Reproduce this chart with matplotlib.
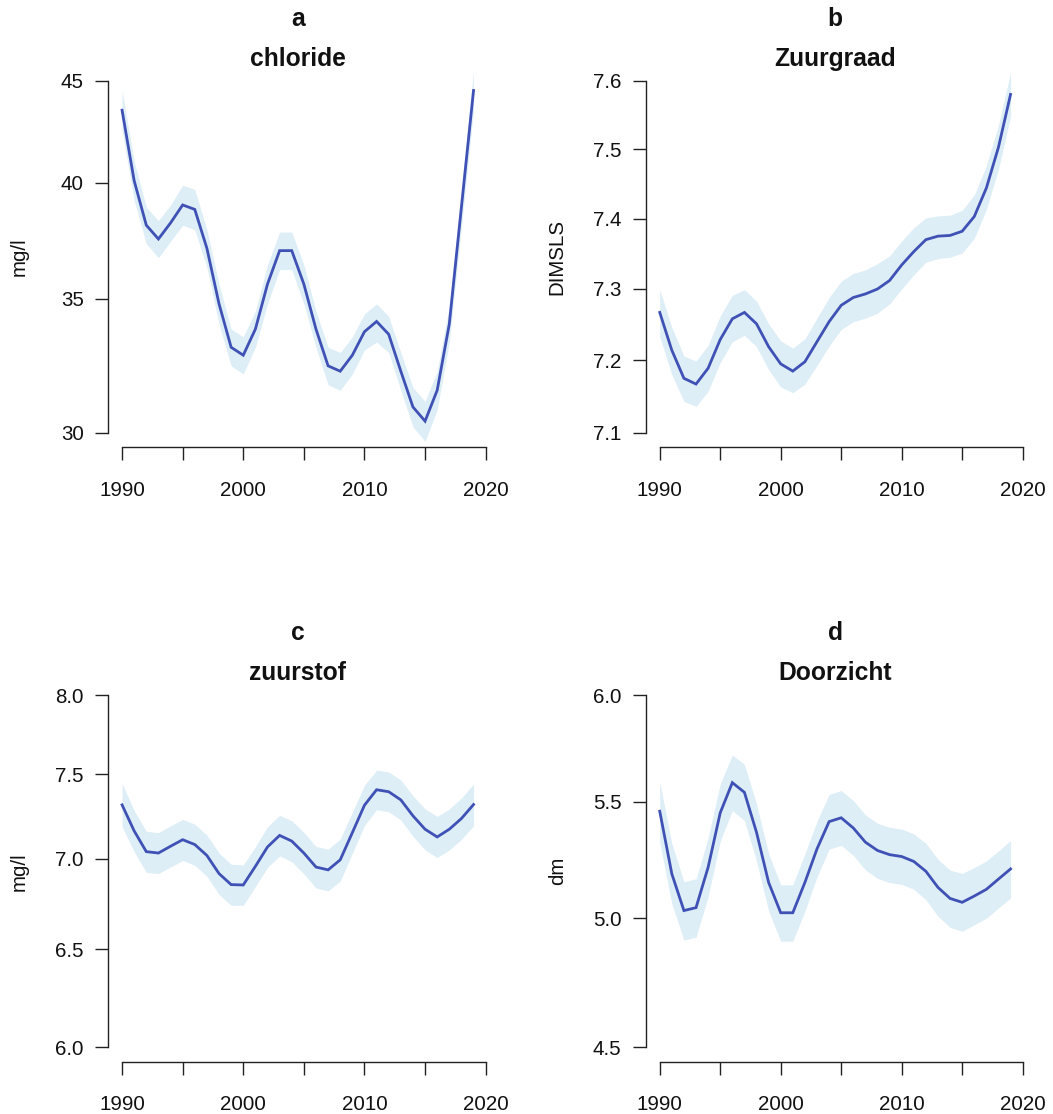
import numpy as np
import matplotlib
matplotlib.use("Agg")
import matplotlib.pyplot as plt

plt.rcParams['font.family'] = ['Liberation Sans', 'DejaVu Sans']

years = list(range(1990, 2020))

# Panel a: chloride (mg/l)
chloride_mid = [43.5, 40.1, 38.1, 37.5, 38.2, 39.0, 38.8, 37.1, 34.8, 33.1,
                32.8, 33.8, 35.6, 37.0, 37.0, 35.6, 33.8, 32.4, 32.2, 32.8,
                33.7, 34.1, 33.6, 32.2, 30.9, 30.4, 31.5, 34.0, 38.9, 44.5]
chloride_lo = [42.5, 39.2, 37.3, 36.7, 37.4, 38.1, 37.9, 36.3, 34.0, 32.4,
               32.1, 33.1, 34.8, 36.2, 36.2, 34.8, 33.1, 31.7, 31.5, 32.1,
               33.0, 33.3, 32.9, 31.5, 30.2, 29.7, 30.8, 33.3, 38.0, 43.5]
chloride_hi = [44.5, 41.0, 38.9, 38.3, 39.0, 39.9, 39.7, 37.9, 35.6, 33.8,
               33.5, 34.5, 36.4, 37.8, 37.8, 36.4, 34.5, 33.1, 32.9, 33.5,
               34.4, 34.8, 34.3, 32.9, 31.6, 31.1, 32.2, 34.7, 39.8, 45.5]

# Panel b: Zuurgraad (DIMSLS)
ph_mid = [7.267, 7.214, 7.175, 7.167, 7.189, 7.229, 7.258, 7.267, 7.251, 7.219,
          7.195, 7.185, 7.198, 7.226, 7.254, 7.277, 7.288, 7.293, 7.300, 7.312,
          7.334, 7.353, 7.370, 7.375, 7.376, 7.382, 7.403, 7.444, 7.503, 7.580]
ph_lo = [7.233, 7.180, 7.143, 7.136, 7.157, 7.197, 7.226, 7.235, 7.219, 7.187,
         7.163, 7.155, 7.167, 7.193, 7.220, 7.243, 7.254, 7.259, 7.266, 7.279,
         7.300, 7.320, 7.338, 7.343, 7.345, 7.351, 7.372, 7.413, 7.471, 7.548]
ph_hi = [7.299, 7.246, 7.206, 7.199, 7.221, 7.262, 7.291, 7.299, 7.283, 7.251,
         7.227, 7.217, 7.230, 7.259, 7.288, 7.311, 7.322, 7.327, 7.336, 7.347,
         7.368, 7.387, 7.401, 7.404, 7.405, 7.412, 7.434, 7.476, 7.535, 7.612]

# Panel c: zuurstof (mg/l)
o2_mid = [7.314, 7.160, 7.040, 7.032, 7.071, 7.109, 7.081, 7.018, 6.915, 6.853,
          6.851, 6.956, 7.067, 7.134, 7.101, 7.032, 6.952, 6.936, 6.993, 7.150,
          7.312, 7.405, 7.393, 7.344, 7.249, 7.170, 7.125, 7.170, 7.233, 7.316]
o2_lo = [7.184, 7.040, 6.922, 6.915, 6.952, 6.990, 6.962, 6.900, 6.798, 6.738,
         6.738, 6.843, 6.950, 7.016, 6.982, 6.913, 6.834, 6.818, 6.873, 7.030,
         7.192, 7.285, 7.273, 7.224, 7.129, 7.050, 7.006, 7.050, 7.111, 7.190]
o2_hi = [7.443, 7.280, 7.158, 7.150, 7.190, 7.228, 7.200, 7.136, 7.032, 6.968,
         6.964, 7.069, 7.184, 7.252, 7.220, 7.151, 7.070, 7.054, 7.113, 7.270,
         7.432, 7.525, 7.513, 7.464, 7.369, 7.290, 7.245, 7.290, 7.355, 7.440]

# Panel d: Doorzicht (dm)
secchi_mid = [5.457, 5.185, 5.032, 5.044, 5.213, 5.450, 5.586, 5.542, 5.364, 5.149,
              5.023, 5.023, 5.149, 5.292, 5.411, 5.428, 5.383, 5.321, 5.285, 5.267,
              5.259, 5.238, 5.196, 5.128, 5.082, 5.066, 5.092, 5.120, 5.163, 5.206]
secchi_lo = [5.321, 5.060, 4.912, 4.924, 5.090, 5.325, 5.460, 5.416, 5.240, 5.030,
             4.908, 4.908, 5.030, 5.172, 5.291, 5.307, 5.264, 5.202, 5.166, 5.148,
             5.141, 5.120, 5.077, 5.009, 4.963, 4.948, 4.974, 5.001, 5.043, 5.084]
secchi_hi = [5.590, 5.315, 5.152, 5.164, 5.340, 5.580, 5.714, 5.670, 5.490, 5.271,
             5.139, 5.139, 5.271, 5.412, 5.533, 5.550, 5.505, 5.441, 5.404, 5.386,
             5.378, 5.357, 5.316, 5.247, 5.201, 5.187, 5.212, 5.240, 5.283, 5.328]

letters = ['a', 'b', 'c', 'd']
titles = ['chloride', 'Zuurgraad', 'zuurstof', 'Doorzicht']
units = ['mg/l', 'DIMSLS', 'mg/l', 'dm']
yticks_list = [[30, 35, 40, 45],
               [7.1, 7.2, 7.3, 7.4, 7.5, 7.6],
               [6.0, 6.5, 7.0, 7.5, 8.0],
               [4.5, 5.0, 5.5, 6.0]]
ytick_fmt = ['{:.0f}', '{:.1f}', '{:.1f}', '{:.1f}']
xticks = [1990, 1995, 2000, 2005, 2010, 2015, 2020]
xticklabels = ['1990', '', '2000', '', '2010', '', '2020']

mids = [chloride_mid, ph_mid, o2_mid, secchi_mid]
los = [chloride_lo, ph_lo, o2_lo, secchi_lo]
his = [chloride_hi, ph_hi, o2_hi, secchi_hi]

W, H = 1053, 1114
fig = plt.figure(figsize=(W / 100, H / 100), dpi=100)

# plot regions in pixels: (left, right, top, bottom)
regions = [(108, 487.6, 66.7, 446.7),
           (645.7, 1024.6, 66.7, 446.7),
           (108, 487.6, 681.0, 1061.5),
           (645.7, 1024.6, 681.0, 1061.5)]

line_col = '#3F51B5'
band_col = '#DDEEF6'
fs = 14.8
fs_title = 17.7

for i in range(4):
    l, r, t, b = regions[i]
    ax = fig.add_axes([l / W, (H - b) / H, (r - l) / W, (b - t) / H])
    x = np.array(years)
    ax.fill_between(x, los[i], his[i], color=band_col, lw=0, zorder=1)
    ax.plot(x, mids[i], color=line_col, lw=2.0, zorder=2, solid_joinstyle='miter')
    ax.set_yscale('log')
    x0, x1 = min(years), max(years)
    pad = 0.04 * (x1 - x0)
    ax.set_xlim(x0 - pad, x1 + pad)
    yt = yticks_list[i]
    lo, hi = np.log(yt[0]), np.log(yt[-1])
    ypad = 0.04 * (hi - lo)
    ax.set_ylim(np.exp(lo - ypad), np.exp(hi + ypad))
    ax.yaxis.set_minor_locator(matplotlib.ticker.NullLocator())
    ax.set_yticks(yt)
    ax.set_yticklabels([ytick_fmt[i].format(v) for v in yt])
    ax.set_xticks(xticks)
    ax.set_xticklabels(xticklabels)
    for s in ['top', 'right']:
        ax.spines[s].set_visible(False)
    ax.spines['left'].set_bounds(yt[0], yt[-1])
    ax.spines['bottom'].set_bounds(1990, 2020)
    for s in ['left', 'bottom']:
        ax.spines[s].set_linewidth(1.0)
        ax.spines[s].set_color('#222222')
    ax.tick_params(axis='both', length=9.4, width=1.0, color='#222222',
                   labelsize=fs, labelcolor='#111111')
    ax.tick_params(axis='y', pad=8)
    ax.tick_params(axis='x', pad=15)
    ax.patch.set_visible(False)
    cx = (l + r) / 2
    fig.text(cx / W, 1 - (t - 40.5) / H, letters[i], ha='center', va='baseline',
             fontsize=fs_title, fontweight='bold', color='#111111')
    fig.text(cx / W, 1 - (t - 0.5) / H, titles[i], ha='center', va='baseline',
             fontsize=fs_title, fontweight='bold', color='#111111')
    fig.text((l - 88.5) / W, 1 - ((t + b) / 2) / H, units[i], ha='center', va='center',
             rotation=90, fontsize=fs, color='#111111')

fig.savefig('out.png', dpi=100)
